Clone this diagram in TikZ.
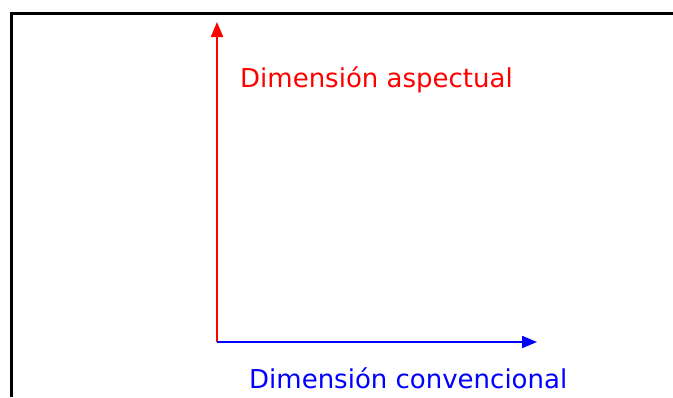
\documentclass[tikz,border=0pt]{standalone}
\usepackage{fontspec}
\setmainfont{DejaVu Sans}
\usetikzlibrary{arrows.meta}
\begin{document}
\begin{tikzpicture}[x=1pt,y=-1pt,
  frameline/.style={line width=3pt,black},
  axisline/.style={line width=2pt,-{Triangle[length=15pt,width=12pt]}},
  lbl/.style={anchor=base west,inner sep=0pt,font=\fontsize{26}{30}\selectfont}]
\useasboundingbox (0,0) rectangle (673,397);
\coordinate (tl) at (11,13);
\coordinate (tr) at (673,13);
\coordinate (bl) at (11,397);
\draw[frameline] (tr) -- (tl) -- (bl);
\coordinate (o) at (217,342);
\coordinate (ytip) at (217,22);
\coordinate (xtip) at (537,342);
\draw[axisline,red] (o) -- (ytip);
\draw[axisline,blue] (o) -- (xtip);
\node[lbl,text=red] (ya) at (240,87) {Dimensión aspectual};
\node[lbl,text=blue] (xa) at (249,388) {Dimensión convencional};
\end{tikzpicture}
\end{document}
